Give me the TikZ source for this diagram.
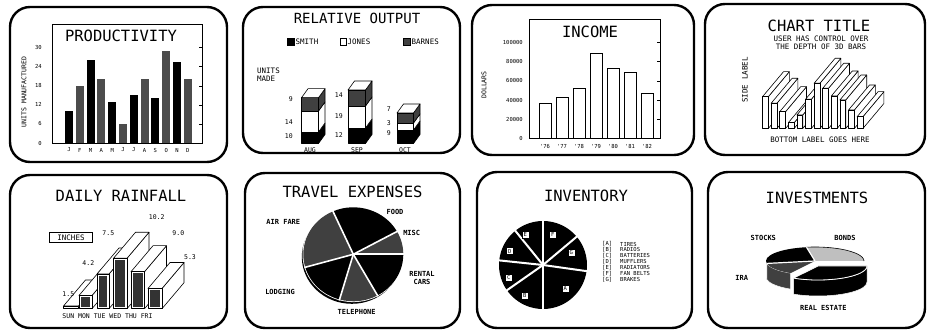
\documentclass[tikz,border=0pt]{standalone}
\usepackage{fontspec}
\setmonofont{DejaVu Sans Mono}
\tikzset{
  panel/.style={line width=2.4pt, rounded corners=20pt},
  ttl/.style={font=\ttfamily\fontsize{15.5}{16}\selectfont, inner sep=0pt},
  medlbl/.style={font=\ttfamily\fontsize{7.5}{8}\selectfont, inner sep=0pt},
  lbl/.style={font=\ttfamily\fontsize{6.5}{7}\selectfont, inner sep=0pt},
  smalllbl/.style={font=\ttfamily\fontsize{5.5}{6}\selectfont, inner sep=0pt},
  tag/.style={font=\ttfamily\bfseries\fontsize{7}{8}\selectfont, inner sep=0pt},
  face/.style={draw, fill=white, line width=0.6pt, line join=round},
  cut/.style={white, line width=1.6pt},
}
% 3d slab: left, right, top, base; depth from \dpx,\dpy
\newcommand\slab[4]{%
  \filldraw[face] (#2,#4) -- ++(\dpx,\dpy) -- ({#2+\dpx},{#3+(\dpy)}) -- (#2,#3) -- cycle;
  \filldraw[face] (#1,#3) -- ++(\dpx,\dpy) -- ({#2+\dpx},{#3+(\dpy)}) -- (#2,#3) -- cycle;
  \filldraw[face] (#1,#4) rectangle (#2,#3);}
% stacked segment: left, right, low, high, colour
\newcommand\seg[5]{%
  \filldraw[face, fill=#5] (#1,#3) rectangle (#2,#4);
  \filldraw[face, fill=#5] (#2,#3) -- ++(6.5,-9) -- ({#2+6.5},{#4-9}) -- (#2,#4) -- cycle;}
\newcommand\segtop[3]{\filldraw[face] (#1,#3) -- ++(6.5,-9) -- ({#2+6.5},{#3-9}) -- (#2,#3) -- cycle;}
\newcommand\piewedge[5]{\fill[#3] (0,0) -- (#1:#4 and #5) arc[start angle=#1, end angle=#2, x radius=#4, y radius=#5] -- cycle;}

\begin{document}
\begin{tikzpicture}[x=1pt,y=-1pt]
  \fill[white] (0,0) rectangle (930,331);
  \useasboundingbox (0,0) rectangle (930,331);

  % productivity
  \draw[panel] (10,7) rectangle (227,162);
  \draw[line width=0.5pt] (52,24) rectangle (202,143);
  \node[ttl] (prodTitle) at (121,36) {PRODUCTIVITY};
  \node[lbl, rotate=90] (prodAxis) at (24,92) {UNITS MANUFACTURED};
  \foreach \v in {0,6,...,30} {
    \node[smalllbl, anchor=east] (prodY\v) at (42,{143-3.18*\v}) {\v};
    \draw[line width=0.4pt] (199,{143-3.18*\v}) -- (202,{143-3.18*\v});
  }
  \foreach \h [count=\i] in {10,18,26,20,13,6,15,20,14,29,25.5,20} {
    \pgfmathsetmacro\cx{69+10.8*(\i-1)}
    \pgfmathtruncatemacro\odd{mod(\i,2)}
    \ifnum\odd=1 \def\barcol{black}\else\def\barcol{black!70}\fi
    \fill[\barcol] ({\cx-4},143) rectangle ({\cx+4},{143-3.18*\h});
  }
  \foreach \m [count=\i] in {J,F,M,A,M,J,J,A,S,O,N,D}
    \node[smalllbl] (prodM\i) at ({69+10.8*(\i-1)},150) {\m};

  % relative output
  \draw[panel] (243,7) rectangle (460,153);
  \node[ttl, font=\ttfamily\fontsize{14}{14}\selectfont] (relTitle) at (357,18) {RELATIVE OUTPUT};
  \filldraw[fill=black, line width=0.4pt] (287,38) rectangle (294,45);
  \node[medlbl, anchor=west] (legSmith) at (295.5,41.5) {SMITH};
  \draw[line width=0.4pt] (340,38) rectangle (346,45);
  \node[medlbl, anchor=west] (legJones) at (347.5,41.5) {JONES};
  \filldraw[fill=black!75, line width=0.4pt] (403,38) rectangle (410,45);
  \node[medlbl, anchor=west] (legBarnes) at (411.5,41.5) {BARNES};
  \node[medlbl, anchor=west] (unitsA) at (257,71) {UNITS};
  \node[medlbl, anchor=west] (unitsB) at (257,79) {MADE};
  \seg{301.5}{318.5}{143.5}{132}{black}
  \seg{301.5}{318.5}{132}{111}{white}
  \seg{301.5}{318.5}{111}{97.7}{black!75}
  \segtop{301.5}{318.5}{97.7}
  \seg{348}{365.5}{143.5}{128}{black}
  \seg{348}{365.5}{128}{106}{white}
  \seg{348}{365.5}{106}{90}{black!75}
  \segtop{348}{365.5}{90}
  \seg{397}{413.5}{143.5}{130}{black}
  \seg{397}{413.5}{130}{123}{white}
  \seg{397}{413.5}{123}{113}{black!75}
  \segtop{397}{413.5}{113}
  \node[lbl, anchor=east] (aug9) at (293,99) {9};
  \node[lbl, anchor=east] (aug14) at (293,122) {14};
  \node[lbl, anchor=east] (aug10) at (293,136) {10};
  \node[lbl, anchor=east] (sep14) at (343,95) {14};
  \node[lbl, anchor=east] (sep19) at (343,116) {19};
  \node[lbl, anchor=east] (sep12) at (343,135) {12};
  \node[lbl, anchor=east] (oct7) at (391,109) {7};
  \node[lbl, anchor=east] (oct3) at (391,123) {3};
  \node[lbl, anchor=east] (oct9) at (391,133) {9};
  \node[lbl] (augX) at (310,150) {AUG};
  \node[lbl] (sepX) at (357,150) {SEP};
  \node[lbl] (octX) at (405,150) {OCT};

  % income
  \draw[panel] (472,5) rectangle (694,155);
  \draw[line width=0.5pt] (529,19.5) rectangle (660,138.5);
  \node[ttl] (incTitle) at (590,32) {INCOME};
  \node[lbl, rotate=90] (incAxis) at (484,85) {DOLLARS};
  \foreach \v [count=\i from 0] in {0,20000,40000,60000,80000,100000} {
    \node[smalllbl, anchor=east] (incY\i) at (523,{138.5-19.2*\i}) {\v};
    \draw[line width=0.4pt] (657,{138.5-19.2*\i}) -- (660,{138.5-19.2*\i});
  }
  \foreach \t/\yr [count=\i from 0] in {103.3/76,97.7/77,88.3/78,53.3/79,68/80,72.3/81,93.3/82} {
    \draw[line width=0.6pt, fill=white] ({539+17*\i},138.5) rectangle ({551+17*\i},\t);
    \node[smalllbl] (incX\yr) at ({545+17*\i},146) {'\yr};
  }

  % chart title
  \draw[panel] (705,4) rectangle (925,155);
  \node[ttl] (chtTitle) at (819,26) {CHART TITLE};
  \node[medlbl] (chtSubA) at (821,39) {USER HAS CONTROL OVER};
  \node[medlbl] (chtSubB) at (821,47) {THE DEPTH OF 3D BARS};
  \node[medlbl, rotate=90] (chtSide) at (745,80) {SIDE LABEL};
  \node[medlbl] (chtBottom) at (820,140) {BOTTOM LABEL GOES HERE};
  \def\dpx{21}\def\dpy{-25}
  \foreach \t [count=\i from 0] in {96.7,103.3,111.7,122.7,115,99.3,83.3,88.3,96,100,110,116.7} {
    \slab{762.5+8.6*\i}{768.3+8.6*\i}{\t}{128.5}
  }

  % daily rainfall
  \draw[panel] (10,175) rectangle (227,328);
  \node[ttl] (rainTitle) at (121,195.7) {DAILY RAINFALL};
  \node[medlbl, draw, line width=0.4pt, minimum width=43pt, minimum height=10pt] (inchBox) at (71,237.3) {INCHES};
  \def\dpx{22}\def\dpy{-26}
  \slab{63.5}{78.5}{306}{308.7}
  \foreach \l/\r/\t in {79/92/295.5, 97/109/274, 113.5/127/258.3, 131/144.5/271.7, 148/162/288.5} {
    \slab{\l}{\r}{\t}{308.7}
    \fill[black!80] ({\l+1.6},307.1) rectangle ({\r-1.6},{\t+1.6});
  }
  \node[lbl] (sunV) at (68.3,294) {1.5};
  \node[lbl] (monV) at (88.3,262.7) {4.2};
  \node[lbl] (tueV) at (108.3,233.3) {7.5};
  \node[lbl] (wedV) at (156.7,216.7) {10.2};
  \node[lbl] (thuV) at (178.3,232.7) {9.0};
  \node[lbl] (friV) at (190,257.3) {5.3};
  \node[lbl] (rainDays) at (107.5,316.5) {SUN MON TUE WED THU FRI};

  % travel expenses
  \draw[panel] (245,173) rectangle (460,328);
  \node[ttl] (travTitle) at (352.5,192.3) {TRAVEL EXPENSES};
  \begin{scope}[shift={(353.3,254.3)}, yscale=-1]
    \fill[black] (-1.5,-2.5) ellipse[x radius=50, y radius=47];
    \fill[white] (0,0) ellipse[x radius=50.8, y radius=47.8];
    \piewedge{29}{114}{black}{50}{47}
    \piewedge{114}{196}{black!75}{50}{47}
    \piewedge{196}{254}{black}{50}{47}
    \piewedge{254}{299}{black!75}{50}{47}
    \piewedge{299}{360}{black}{50}{47}
    \piewedge{0}{29}{black!75}{50}{47}
    \foreach \a in {0,29,114,196,254,299}
      \draw[cut] (0,0) -- (\a:51 and 48);
  \end{scope}
  \node[tag] (food) at (395,211.7) {FOOD};
  \node[tag] (misc) at (411.7,233.3) {MISC};
  \node[tag, align=center] (rental) at (422,278) {RENTAL\\CARS};
  \node[tag] (phone) at (356.7,311.7) {TELEPHONE};
  \node[tag] (lodging) at (280,291.7) {LODGING};
  \node[tag] (airfare) at (283.3,222.3) {AIR FARE};

  % inventory
  \draw[panel] (477,172) rectangle (692,328);
  \node[ttl] (invTitle) at (586,195.7) {INVENTORY};
  \begin{scope}[shift={(543,265)}, yscale=-1]
    \fill[black] (0,0) circle[radius=44];
    \foreach \a in {-8,40,90,129,174,215,270}
      \draw[cut, line width=2pt] (0,0) -- (\a:45);
  \end{scope}
  \foreach \k/\px/\py in {A/565.3/288.3, B/524.7/295.7, C/508.7/277.7, D/509.7/251, E/525.3/234.3, F/552.7/234.3, G/571.3/252.3}
    \node[smalllbl, draw, fill=white, line width=0.4pt, minimum size=7pt] (invTag\k) at (\px,\py) {\k};
  \foreach \k/\name [count=\i from 0] in {A/TIRES,B/RADIOS,C/BATTERIES,D/MUFFLERS,E/RADIATORS,F/FAN BELTS,G/BRAKES} {
    \node[smalllbl, anchor=west] (invKey\k) at (602,{244+5.9*\i}) {[\k]};
    \node[smalllbl, anchor=west] (invName\k) at (620,{244+5.9*\i}) {\name};
  }

  % investments
  \draw[panel] (708,172) rectangle (925,328);
  \node[ttl] (invsTitle) at (817,198.3) {INVESTMENTS};
  \begin{scope}[shift={(815,261)}, yscale=-1]
    \filldraw[fill=black, draw=white, line width=0.5pt] (180:49 and 14) arc[start angle=180, end angle=190, x radius=49, y radius=14] -- ++(0,-16) arc[start angle=190, end angle=180, x radius=49, y radius=14] -- cycle;
    \filldraw[fill=black!75, draw=white, line width=0.5pt] (190:49 and 14) arc[start angle=190, end angle=240, x radius=49, y radius=14] -- ++(0,-16) arc[start angle=240, end angle=190, x radius=49, y radius=14] -- cycle;
    \piewedge{0}{100}{black!25}{49}{14}
    \piewedge{100}{190}{black}{49}{14}
    \piewedge{190}{240}{black!75}{49}{14}
    \draw[line width=0.6pt] (0:49 and 14) arc[start angle=0, end angle=100, x radius=49, y radius=14];
    \draw[cut, line width=1.2pt] (0,0) -- (100:49 and 14);
    \draw[cut, line width=1.2pt] (0,0) -- (190:49 and 14);
    \begin{scope}[shift={(3,-5)}]
      \filldraw[fill=black, draw=white, line width=0.5pt] (240:49 and 14) arc[start angle=240, end angle=360, x radius=49, y radius=14] -- ++(0,-16) arc[start angle=360, end angle=240, x radius=49, y radius=14] -- cycle;
      \piewedge{240}{360}{black}{49}{14}
      \draw[white, line width=0.8pt] (0,0) -- (240:49 and 14) arc[start angle=240, end angle=360, x radius=49, y radius=14] -- cycle;
    \end{scope}
  \end{scope}
  \node[tag] (stocks) at (763.3,237.7) {STOCKS};
  \node[tag] (bonds) at (845,237.7) {BONDS};
  \node[tag] (ira) at (741.7,277.7) {IRA};
  \node[tag] (realestate) at (823.3,308.3) {REAL ESTATE};
\end{tikzpicture}
\end{document}
